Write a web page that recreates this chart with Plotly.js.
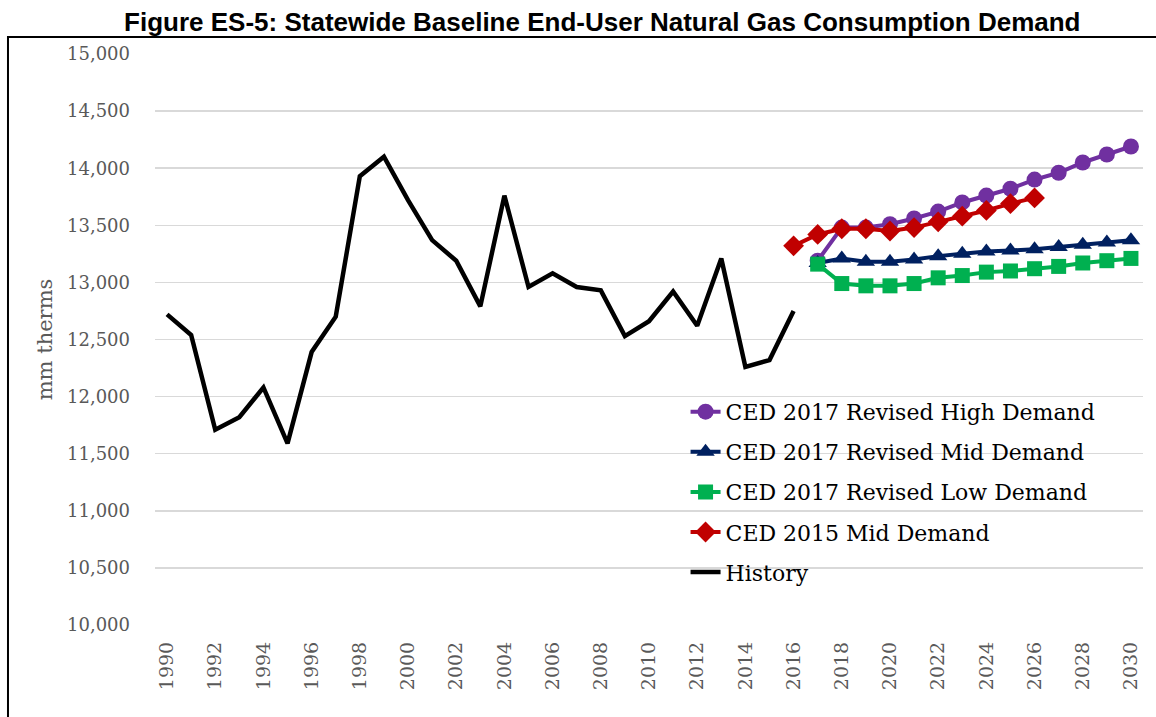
<!DOCTYPE html>
<html>
<head>
<meta charset="utf-8">
<script src="https://cdn.plot.ly/plotly-3.0.1.min.js"></script>
<style>html,body{margin:0;padding:0;background:#fff;}#chart{width:1156px;height:717px;}</style>
</head>
<body>
<div id="chart"></div>
<script>
const histYears = [1990,1991,1992,1993,1994,1995,1996,1997,1998,1999,2000,2001,2002,2003,2004,2005,2006,2007,2008,2009,2010,2011,2012,2013,2014,2015,2016];
const history = [12720,12540,11710,11820,12080,11590,12390,12700,13930,14100,13720,13370,13190,12790,13760,12960,13080,12960,12930,12530,12660,12920,12620,13210,12260,12320,12750];

const fcYears = [2017,2018,2019,2020,2021,2022,2023,2024,2025,2026,2027,2028,2029,2030];
const highDemand = [13190,13480,13480,13510,13560,13620,13700,13760,13820,13900,13960,14050,14120,14190];
const midDemand = [13170,13210,13180,13180,13200,13230,13250,13270,13280,13290,13310,13330,13350,13370];
const lowDemand = [13160,12990,12970,12970,12990,13040,13060,13090,13100,13120,13140,13170,13190,13210];

const ced2015Years = [2016,2017,2018,2019,2020,2021,2022,2023,2024,2025,2026];
const ced2015Mid = [13320,13420,13470,13470,13450,13480,13530,13580,13630,13690,13740];

const tickYears = [1990,1992,1994,1996,1998,2000,2002,2004,2006,2008,2010,2012,2014,2016,2018,2020,2022,2024,2026,2028,2030];
const yTicks = [10000,10500,11000,11500,12000,12500,13000,13500,14000,14500,15000];

const traces = [
  {x: histYears, y: history, name: 'History', mode: 'lines', legendgroup: 'e', legendrank: 5,
   line: {color: '#000000', width: 4.5}},
  {x: fcYears, y: highDemand, name: 'CED 2017 Revised High Demand', mode: 'lines+markers', legendgroup: 'a', legendrank: 1,
   line: {color: '#7030A0', width: 4}, marker: {symbol: 'circle', size: 16, color: '#7030A0'}},
  {x: fcYears, y: midDemand, name: 'CED 2017 Revised Mid Demand', mode: 'lines+markers', legendgroup: 'b', legendrank: 2,
   line: {color: '#002060', width: 4}, marker: {symbol: 'triangle-up', size: 16, color: '#002060'}},
  {x: fcYears, y: lowDemand, name: 'CED 2017 Revised Low Demand', mode: 'lines+markers', legendgroup: 'c', legendrank: 3,
   line: {color: '#00B050', width: 4}, marker: {symbol: 'square', size: 15, color: '#00B050'}},
  {x: ced2015Years, y: ced2015Mid, name: 'CED 2015 Mid Demand', mode: 'lines+markers', legendgroup: 'd', legendrank: 4,
   line: {color: '#C00000', width: 4}, marker: {symbol: 'diamond', size: 16, color: '#C00000'}}
];

const layout = {
  width: 1156, height: 717,
  margin: {l: 155, r: 13, t: 54, b: 92},
  paper_bgcolor: '#ffffff', plot_bgcolor: '#ffffff',
  title: {text: '<b>Figure ES-5: Statewide Baseline End-User Natural Gas Consumption Demand</b>',
          font: {family: 'Liberation Sans, Arial, sans-serif', size: 26, color: '#000000'},
          x: 0.521, xanchor: 'center', y: 0.97, yanchor: 'middle'},
  xaxis: {range: [1989.5, 2030.5], tickvals: tickYears, ticktext: tickYears.map(String), tickangle: -90,
          showgrid: false, zeroline: false, showline: false, ticks: '', ticklabelstandoff: 12,
          tickfont: {family: 'DejaVu Serif, serif', size: 19, color: '#595959'}},
  yaxis: {range: [10000, 15000], tickvals: yTicks, tickformat: ',d', showgrid: true, gridcolor: '#D9D9D9', gridwidth: 1.5,
          zeroline: false, showline: false, ticks: '', ticklabelstandoff: 24,
          tickfont: {family: 'DejaVu Serif, serif', size: 18, color: '#595959'},
          title: {text: 'mm therms', font: {family: 'DejaVu Serif, serif', size: 21, color: '#595959'}, standoff: 8}},
  legend: {x: 0.537, y: 0.41, xanchor: 'left', yanchor: 'top', bgcolor: 'rgba(0,0,0,0)', tracegroupgap: 8.5,
           traceorder: 'grouped', font: {family: 'DejaVu Serif, serif', size: 22, color: '#000000'}},
  showlegend: true,
  shapes: [{type: 'rect', xref: 'paper', yref: 'paper', x0: -0.1488, x1: 1.03, y0: -0.25, y1: 1.0298,
            line: {color: '#000000', width: 2}, fillcolor: 'rgba(0,0,0,0)'}]
};

Plotly.newPlot('chart', traces, layout, {displayModeBar: false, staticPlot: true});
</script>
</body>
</html>
